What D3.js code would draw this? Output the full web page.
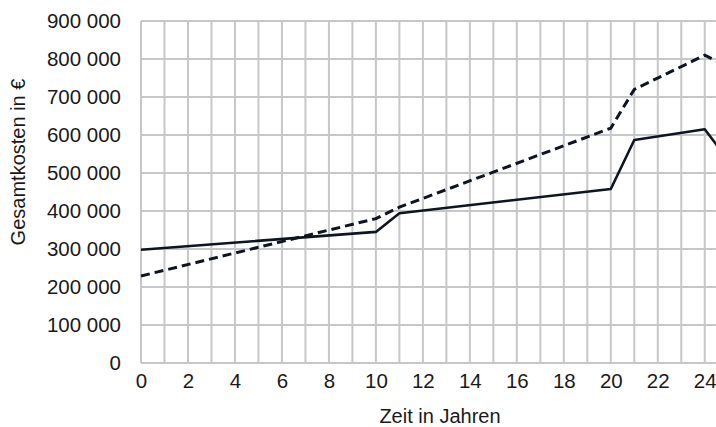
<!DOCTYPE html>
<html>
<head>
<meta charset="utf-8">
<script src="https://cdn.jsdelivr.net/npm/d3@7/dist/d3.min.js"></script>
<style>
  html, body { margin: 0; padding: 0; background: #fff; }
  svg { display: block; }
  text { font-family: "Liberation Sans", Arial, sans-serif; fill: #1a1a1a; }
</style>
</head>
<body>
<svg id="chart" width="716" height="427"></svg>
<script>
// Years with a change of slope, and total costs (EUR) for each scenario
const yearsSolid = [0, 10, 11, 20, 21, 24, 25];
const costSolid  = [298000, 345000, 394000, 458000, 587000, 615000, 533000];

const yearsDashed = [0, 10, 11, 20, 21, 24, 25];
const costDashed  = [229000, 380000, 410000, 618000, 720000, 810000, 779000];

const xTickValues = [0, 2, 4, 6, 8, 10, 12, 14, 16, 18, 20, 22, 24];
const yTickValues = [0, 100000, 200000, 300000, 400000, 500000, 600000, 700000, 800000, 900000];

const xTitle = "Zeit in Jahren";
const yTitle = "Gesamtkosten in €";

const svg = d3.select("#chart");
const plotLeft = 141, plotTop = 21, plotBottom = 363;
const yearStep = 23.49;

const x = d3.scaleLinear().domain([0, 25]).range([plotLeft, plotLeft + 25 * yearStep]);
const y = d3.scaleLinear().domain([0, 900000]).range([plotBottom, plotTop]);

const gridColor = "#c6c7c9";

// vertical grid: one line per year
const grid = svg.append("g");
grid.selectAll("line.v")
  .data(d3.range(0, 26))
  .join("line")
  .attr("class", "v")
  .attr("x1", d => x(d)).attr("x2", d => x(d))
  .attr("y1", y(900000)).attr("y2", y(0))
  .attr("stroke", gridColor).attr("stroke-width", 2);

// horizontal grid
grid.selectAll("line.h")
  .data(yTickValues)
  .join("line")
  .attr("class", "h")
  .attr("x1", x(0)).attr("x2", x(25))
  .attr("y1", d => y(d)).attr("y2", d => y(d))
  .attr("stroke", gridColor).attr("stroke-width", 2);

const fmt = v => d3.format(",")(v).replace(/,/g, " ");

// y axis labels
const yAxis = d3.axisLeft(y).tickValues(yTickValues).tickFormat(fmt).tickSize(0).tickPadding(20);
svg.append("g").attr("transform", `translate(${plotLeft},0)`).call(yAxis)
  .call(g => g.select(".domain").remove())
  .call(g => g.selectAll("text")
    .style("font-family", '"Liberation Sans", Arial, sans-serif')
    .style("font-size", "20.5px").attr("fill", "#1a1a1a"));

// x axis labels
const xAxis = d3.axisBottom(x).tickValues(xTickValues).tickFormat(d3.format("d")).tickSize(0).tickPadding(10);
svg.append("g").attr("transform", `translate(0,${plotBottom})`).call(xAxis)
  .call(g => g.select(".domain").remove())
  .call(g => g.selectAll("text")
    .style("font-family", '"Liberation Sans", Arial, sans-serif')
    .style("font-size", "20.5px").attr("fill", "#1a1a1a"));

// axis titles
svg.append("text")
  .attr("x", 440).attr("y", 423)
  .attr("text-anchor", "middle")
  .style("font-size", "20px")
  .text(xTitle);

svg.append("text")
  .attr("transform", "translate(25,162) rotate(-90)")
  .attr("text-anchor", "middle")
  .style("font-size", "20px")
  .text(yTitle);

// cost curves
const line = d3.line().x(d => x(d[0])).y(d => y(d[1]));

svg.append("path")
  .datum(d3.zip(yearsSolid, costSolid))
  .attr("d", line)
  .attr("fill", "none")
  .attr("stroke", "#0f1520")
  .attr("stroke-width", 2.6)
  .attr("stroke-linejoin", "round");

svg.append("path")
  .datum(d3.zip(yearsDashed, costDashed))
  .attr("d", line)
  .attr("fill", "none")
  .attr("stroke", "#0f1520")
  .attr("stroke-width", 3)
  .attr("stroke-dasharray", "9,5");
</script>
</body>
</html>
